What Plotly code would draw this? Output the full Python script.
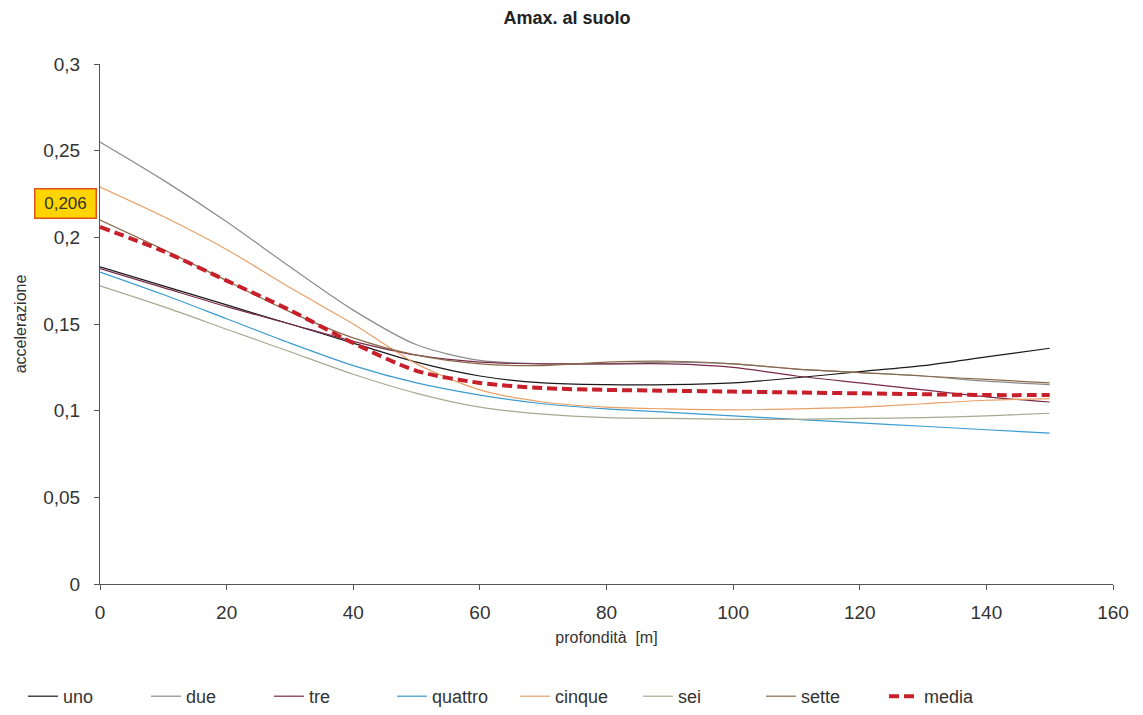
import plotly.graph_objects as go

depth = [0, 10, 20, 30, 40, 50, 60, 70, 80, 90, 100, 110, 120, 130, 140, 150]

uno = [0.183, 0.172, 0.161, 0.150, 0.139, 0.128, 0.120, 0.116, 0.115, 0.115, 0.116, 0.119, 0.1225, 0.126, 0.131, 0.136]
due = [0.255, 0.233, 0.209, 0.183, 0.158, 0.138, 0.129, 0.127, 0.127, 0.128, 0.127, 0.124, 0.122, 0.120, 0.117, 0.115]
tre = [0.182, 0.171, 0.160, 0.150, 0.140, 0.132, 0.128, 0.127, 0.127, 0.127, 0.125, 0.120, 0.116, 0.112, 0.108, 0.105]
quattro = [0.180, 0.167, 0.153, 0.139, 0.126, 0.116, 0.109, 0.104, 0.101, 0.099, 0.097, 0.095, 0.093, 0.091, 0.089, 0.087]
cinque = [0.229, 0.212, 0.193, 0.171, 0.150, 0.127, 0.112, 0.105, 0.102, 0.101, 0.1005, 0.101, 0.102, 0.104, 0.106, 0.107]
sei = [0.172, 0.160, 0.147, 0.134, 0.121, 0.110, 0.102, 0.098, 0.096, 0.0955, 0.095, 0.095, 0.0955, 0.096, 0.097, 0.0985]
sette = [0.210, 0.193, 0.175, 0.157, 0.142, 0.132, 0.127, 0.126, 0.128, 0.1285, 0.127, 0.124, 0.122, 0.120, 0.118, 0.116]
media = [0.206, 0.192, 0.175, 0.158, 0.139, 0.123, 0.116, 0.113, 0.112, 0.1115, 0.111, 0.1105, 0.110, 0.1095, 0.109, 0.109]

series_names = ["uno", "due", "tre", "quattro", "cinque", "sei", "sette"]
series_vals = [uno, due, tre, quattro, cinque, sei, sette]
colors = ["#1a1a1a", "#8c8c8c", "#7a2a4a", "#3a9ccf", "#e8a068", "#a8a890", "#8a6a4a"]

y_ticks = [0, 0.05, 0.1, 0.15, 0.2, 0.25, 0.3]
y_ticktext = ["0", "0,05", "0,1", "0,15", "0,2", "0,25", "0,3"]
x_ticks = [0, 20, 40, 60, 80, 100, 120, 140, 160]

FONT = "Liberation Sans, Arial"

fig = go.Figure()
for name, vals, col in zip(series_names, series_vals, colors):
    fig.add_trace(go.Scatter(x=depth, y=vals, name=name, mode="lines",
                             line=dict(color=col, width=1.2, shape="spline", smoothing=0.8)))
fig.add_trace(go.Scatter(x=depth, y=media, name="media", mode="lines",
                         line=dict(color="#c8202a", width=4, dash="10px,5px", shape="spline", smoothing=0.8)))

fig.add_annotation(x=0, y=media[0], xref="x", yref="y", text="0,206",
                   showarrow=False, xanchor="right", yanchor="bottom", yshift=8, xshift=-3,
                   width=52, height=20,
                   bgcolor="#ffd400", bordercolor="#e0501a", borderwidth=1.5, borderpad=4,
                   font=dict(family=FONT, size=17, color="#333"))

# page body has an 8px margin; figure sized so the plot area lands where the reference has it
fig.update_layout(
    width=1135, height=707,
    paper_bgcolor="white", plot_bgcolor="white",
    margin=dict(l=92, r=30, t=56, b=131, autoexpand=False),
    title=dict(text="<b>Amax. al suolo</b>", x=0.4925, xanchor="center", y=0.995, yanchor="top",
               font=dict(family=FONT, size=18, color="#222")),
    font=dict(family=FONT, size=19, color="#333"),
    showlegend=True,
    legend=dict(orientation="h", xref="container", yref="container", x=0.0132, xanchor="left",
                y=0.0, yanchor="bottom", font=dict(size=18, color="#333"), traceorder="normal",
                entrywidth=78, entrywidthmode="pixels"),
    xaxis=dict(range=[0, 160], tickvals=x_ticks, showgrid=False, zeroline=False, automargin=False,
               showline=True, linecolor="#555", linewidth=1, ticks="outside", ticklen=5,
               tickcolor="#555", ticklabelstandoff=6,
               title=dict(text="profondità  [m]", font=dict(size=16), standoff=10)),
    yaxis=dict(range=[0, 0.3], tickvals=y_ticks, ticktext=y_ticktext, showgrid=False, zeroline=False,
               automargin=False, showline=True, linecolor="#555", linewidth=1, ticks="outside",
               ticklen=5, tickcolor="#555", ticklabelstandoff=10,
               title=dict(text="accelerazione", font=dict(size=16), standoff=12)),
)

fig.write_html("out.html")
